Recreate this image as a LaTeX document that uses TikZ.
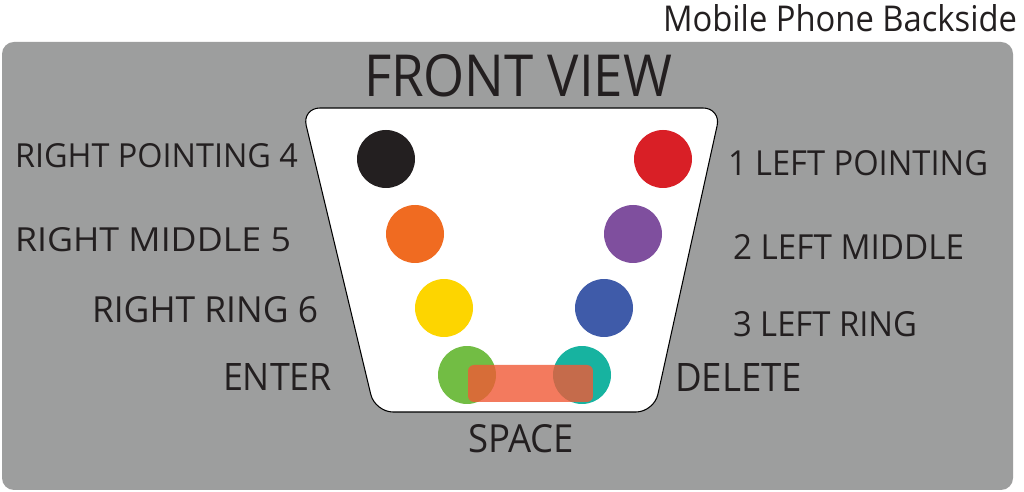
\documentclass[tikz,border=0pt]{standalone}
\usepackage{fontspec}
\setmainfont{Open Sans}
\newlength\pxu
\setlength\pxu{0.02cm}
\newcommand\fitbox[3]{\resizebox{#1\pxu}{#2\pxu}{#3}}
\definecolor{panelgray}{RGB}{157,158,158}
\definecolor{txt}{RGB}{35,31,32}
\definecolor{kblack}{RGB}{35,31,32}
\definecolor{kred}{RGB}{217,31,38}
\definecolor{korange}{RGB}{240,107,33}
\definecolor{kpurple}{RGB}{127,79,158}
\definecolor{kyellow}{RGB}{253,213,0}
\definecolor{kblue}{RGB}{63,91,169}
\definecolor{kgreen}{RGB}{114,189,68}
\definecolor{kteal}{RGB}{23,179,160}
\definecolor{kspace}{RGB}{241,89,54}
\tikzset{
  keybtn/.style={circle, draw=none, minimum size=1.16cm, inner sep=0pt},
  spacebar/.style={rectangle, draw=none, fill=kspace, fill opacity=0.8,
    rounded corners=0.12cm, minimum width=2.5cm, minimum height=0.74cm, inner sep=0pt},
  lbl/.style={anchor=base west, inner sep=0pt, outer sep=0pt, text=txt},
}
\begin{document}
\begin{tikzpicture}[x=0.02cm, y=-0.02cm]
\useasboundingbox (0,0) rectangle (1024,492);
\fill[white] (0,0) rectangle (1024,492);
% phone back panel
\fill[panelgray, rounded corners=0.24cm] (2,42) rectangle (1013,490);
% front view outline
\draw[fill=white, draw=black, line width=0.6pt, rounded corners=0.36cm]
  (302,108) -- (721,108) -- (654,412) -- (375,412) -- cycle;
% keys
\node[keybtn, fill=kblack]  (k4) at (386,159) {};
\node[keybtn, fill=kred]    (k1) at (663,159) {};
\node[keybtn, fill=korange] (k5) at (415,234) {};
\node[keybtn, fill=kpurple] (k2) at (633,234) {};
\node[keybtn, fill=kyellow] (k6) at (444,308) {};
\node[keybtn, fill=kblue]   (k3) at (604,308) {};
\node[keybtn, fill=kgreen]  (kenter) at (467,375) {};
\node[keybtn, fill=kteal]   (kdelete) at (582,375) {};
\node[spacebar] (kspace) at (530.5,383.5) {};
% texts
\node[lbl] (title) at (663,32) {\fitbox{354}{27}{Mobile Phone Backside}};
\node[lbl] (front) at (364,97) {\fitbox{308}{42}{FRONT VIEW}};
\node[lbl] (l4) at (15,168) {\fitbox{283}{24}{RIGHT POINTING 4}};
\node[lbl] (l5) at (15,252) {\fitbox{276}{24}{RIGHT MIDDLE 5}};
\node[lbl] (l6) at (92,323) {\fitbox{226}{26}{RIGHT RING 6}};
\node[lbl] (lenter) at (223,391) {\fitbox{109}{27}{ENTER}};
\node[lbl] (l1) at (728,176) {\fitbox{260}{25}{1 LEFT POINTING}};
\node[lbl] (l2) at (733,260) {\fitbox{231}{25}{2 LEFT MIDDLE}};
\node[lbl] (l3) at (733,337) {\fitbox{184}{25}{3 LEFT RING}};
\node[lbl] (ldelete) at (675,392) {\fitbox{127}{28}{DELETE}};
\node[lbl] (lspace) at (468,453) {\fitbox{106}{28}{SPACE}};
\end{tikzpicture}
\end{document}
